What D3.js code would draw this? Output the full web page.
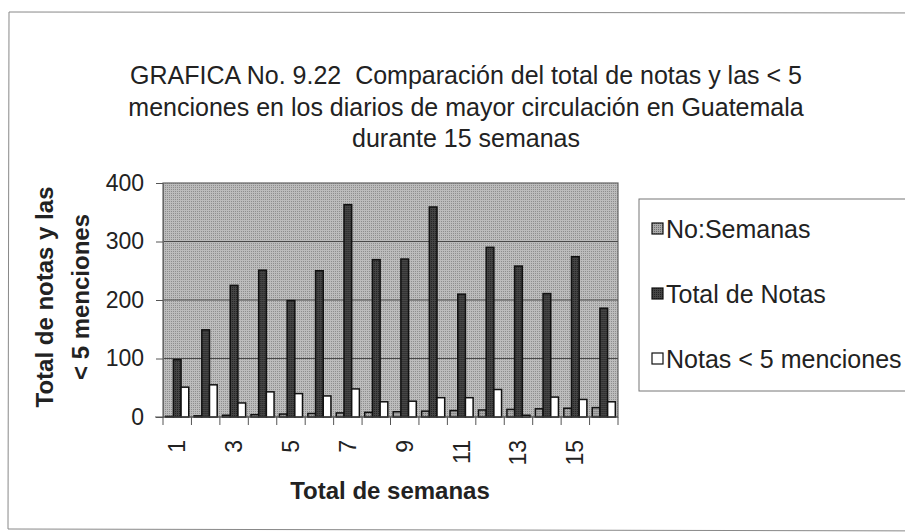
<!DOCTYPE html>
<html>
<head>
<meta charset="utf-8">
<script src="https://cdn.jsdelivr.net/npm/d3@7"></script>
<style>
  body { margin: 0; background: #fff; }
  svg { font-family: "Liberation Sans", Arial, sans-serif; }
  .title { white-space: pre; }
</style>
</head>
<body>
<svg width="905" height="532"></svg>
<script>
var semanas = [1, 2, 3, 4, 5, 6, 7, 8, 9, 10, 11, 12, 13, 14, 15, 16];
var noSemanas = [1, 2, 3, 4, 5, 6, 7, 8, 9, 10, 11, 12, 13, 14, 15, 16];
var totalNotas = [98, 149, 225, 251, 199, 250, 363, 269, 270, 359, 210, 290, 258, 211, 274, 186];
var notasMenos5 = [51, 55, 24, 43, 40, 36, 48, 26, 27, 33, 33, 47, 3, 34, 30, 26];
var seriesNames = ["No:Semanas", "Total de Notas", "Notas < 5 menciones"];
var yTicks = [0, 100, 200, 300, 400];
var titleLines = [
  "GRAFICA No. 9.22  Comparación del total de notas y las < 5",
  "menciones en los diarios de mayor circulación en Guatemala",
  "durante 15 semanas"
];

var svg = d3.select("svg"),
    margin = { top: 183, left: 163 },
    width = 455,
    height = 234;

// patterns to imitate the scanned dot screens
var defs = svg.append("defs");
function dots(id, bg, fg) {
  var p = defs.append("pattern").attr("id", id).attr("width", 2).attr("height", 2)
    .attr("patternUnits", "userSpaceOnUse");
  p.append("rect").attr("width", 2).attr("height", 2).attr("fill", bg);
  p.append("rect").attr("width", 1).attr("height", 1).attr("fill", fg);
}
dots("plotbg", "#bcbcbc", "#8e8e8e");
dots("semfill", "#aaaaaa", "#6e6e6e");
dots("totfill", "#454545", "#222222");

var fills = ["url(#semfill)", "url(#totfill)", "#ffffff"];

// outer chart border
svg.append("path").attr("d", "M 960 13 L 9 12 L 8 529 L 960 531")
  .attr("fill", "none").attr("stroke", "#888").attr("stroke-width", 1);

var data = semanas.map(function (s, i) {
  return { semana: s, values: [noSemanas[i], totalNotas[i], notasMenos5[i]] };
});

var x0 = d3.scaleBand().domain(semanas).range([0, width]).paddingInner(0).paddingOuter(0);
var x1 = d3.scaleBand().domain([0, 1, 2]).range([0, x0.bandwidth()]).paddingOuter(0.35).paddingInner(0);
var y = d3.scaleLinear().domain([0, 400]).range([height, 0]);

var g = svg.append("g").attr("transform", "translate(" + margin.left + "," + margin.top + ")");

g.append("rect").attr("width", width).attr("height", height)
  .attr("fill", "url(#plotbg)").attr("stroke", "#666").attr("stroke-width", 1.2);

g.append("g").selectAll("line").data(yTicks.slice(1, -1)).enter().append("line")
  .attr("x1", 0).attr("x2", width)
  .attr("y1", function (d) { return y(d); }).attr("y2", function (d) { return y(d); })
  .attr("stroke", "#4a4a4a").attr("stroke-width", 1.2);

g.append("g").selectAll("g").data(data).enter().append("g")
  .attr("transform", function (d) { return "translate(" + x0(d.semana) + ",0)"; })
  .selectAll("rect").data(function (d) {
    return d.values.map(function (v, k) { return { k: k, value: v }; });
  }).enter().append("rect")
  .attr("x", function (d) { return x1(d.k); })
  .attr("y", function (d) { return y(d.value); })
  .attr("width", x1.bandwidth())
  .attr("height", function (d) { return height - y(d.value); })
  .attr("fill", function (d) { return fills[d.k]; })
  .attr("stroke", "#111").attr("stroke-width", 1.5);

// y axis
var yAxis = g.append("g").call(d3.axisLeft(y).tickValues(yTicks).tickSize(7).tickPadding(12));
yAxis.select(".domain").attr("stroke", "#666");
yAxis.selectAll(".tick line").attr("stroke", "#555");
yAxis.selectAll("text").attr("font-size", 23).attr("fill", "#222")
  .attr("font-family", "Liberation Sans, Arial, sans-serif");

// x axis: ticks between categories, labels on odd weeks
var xg = g.append("g").attr("transform", "translate(0," + height + ")");
xg.append("line").attr("x1", -8).attr("x2", width).attr("stroke", "#555");
xg.selectAll(".tk").data(semanas.concat([17])).enter().append("line")
  .attr("x1", function (d, i) { return i * x0.step(); })
  .attr("x2", function (d, i) { return i * x0.step(); })
  .attr("y1", 0).attr("y2", 8).attr("stroke", "#555");
xg.selectAll(".lbl").data(semanas.filter(function (d) { return d % 2 === 1; })).enter().append("text")
  .attr("transform", function (d) {
    return "translate(" + (x0(d) + x0.bandwidth() / 2 + 8) + ",23) rotate(-90)";
  })
  .attr("text-anchor", "end").attr("font-size", 23).attr("fill", "#222")
  .text(function (d) { return d; });

// axis titles
svg.append("text").attr("x", 390).attr("y", 499).attr("text-anchor", "middle")
  .attr("font-size", 24).attr("font-weight", "bold").attr("fill", "#222")
  .text("Total de semanas");

var yt = svg.append("text").attr("transform", "translate(63,297) rotate(-90)")
  .attr("text-anchor", "middle").attr("font-size", 24).attr("font-weight", "bold").attr("fill", "#222");
yt.append("tspan").attr("x", 0).attr("y", -10).text("Total de notas y las");
yt.append("tspan").attr("x", 0).attr("y", 26).text("< 5 menciones");

// title
svg.append("text").attr("class", "title").attr("text-anchor", "middle").attr("font-size", 25).attr("fill", "#222")
  .selectAll("tspan").data(titleLines).enter().append("tspan")
  .attr("x", 466).attr("y", function (d, i) { return 84 + i * 31.5; })
  .text(function (d) { return d; });

// legend
var lg = svg.append("g");
lg.append("rect").attr("x", 639).attr("y", 199).attr("width", 300).attr("height", 192)
  .attr("fill", "#fff").attr("stroke", "#777");
var items = lg.selectAll(".item").data(seriesNames).enter().append("g")
  .attr("transform", function (d, i) { return "translate(652," + (229 + i * 65) + ")"; });
items.append("rect").attr("x", 0).attr("y", -6).attr("width", 11).attr("height", 11)
  .attr("fill", function (d, i) { return fills[i]; }).attr("stroke", "#111").attr("stroke-width", 1.2);
items.append("text").attr("x", 14).attr("y", 9).attr("font-size", 25).attr("fill", "#222")
  .text(function (d) { return d; });
</script>
</body>
</html>
